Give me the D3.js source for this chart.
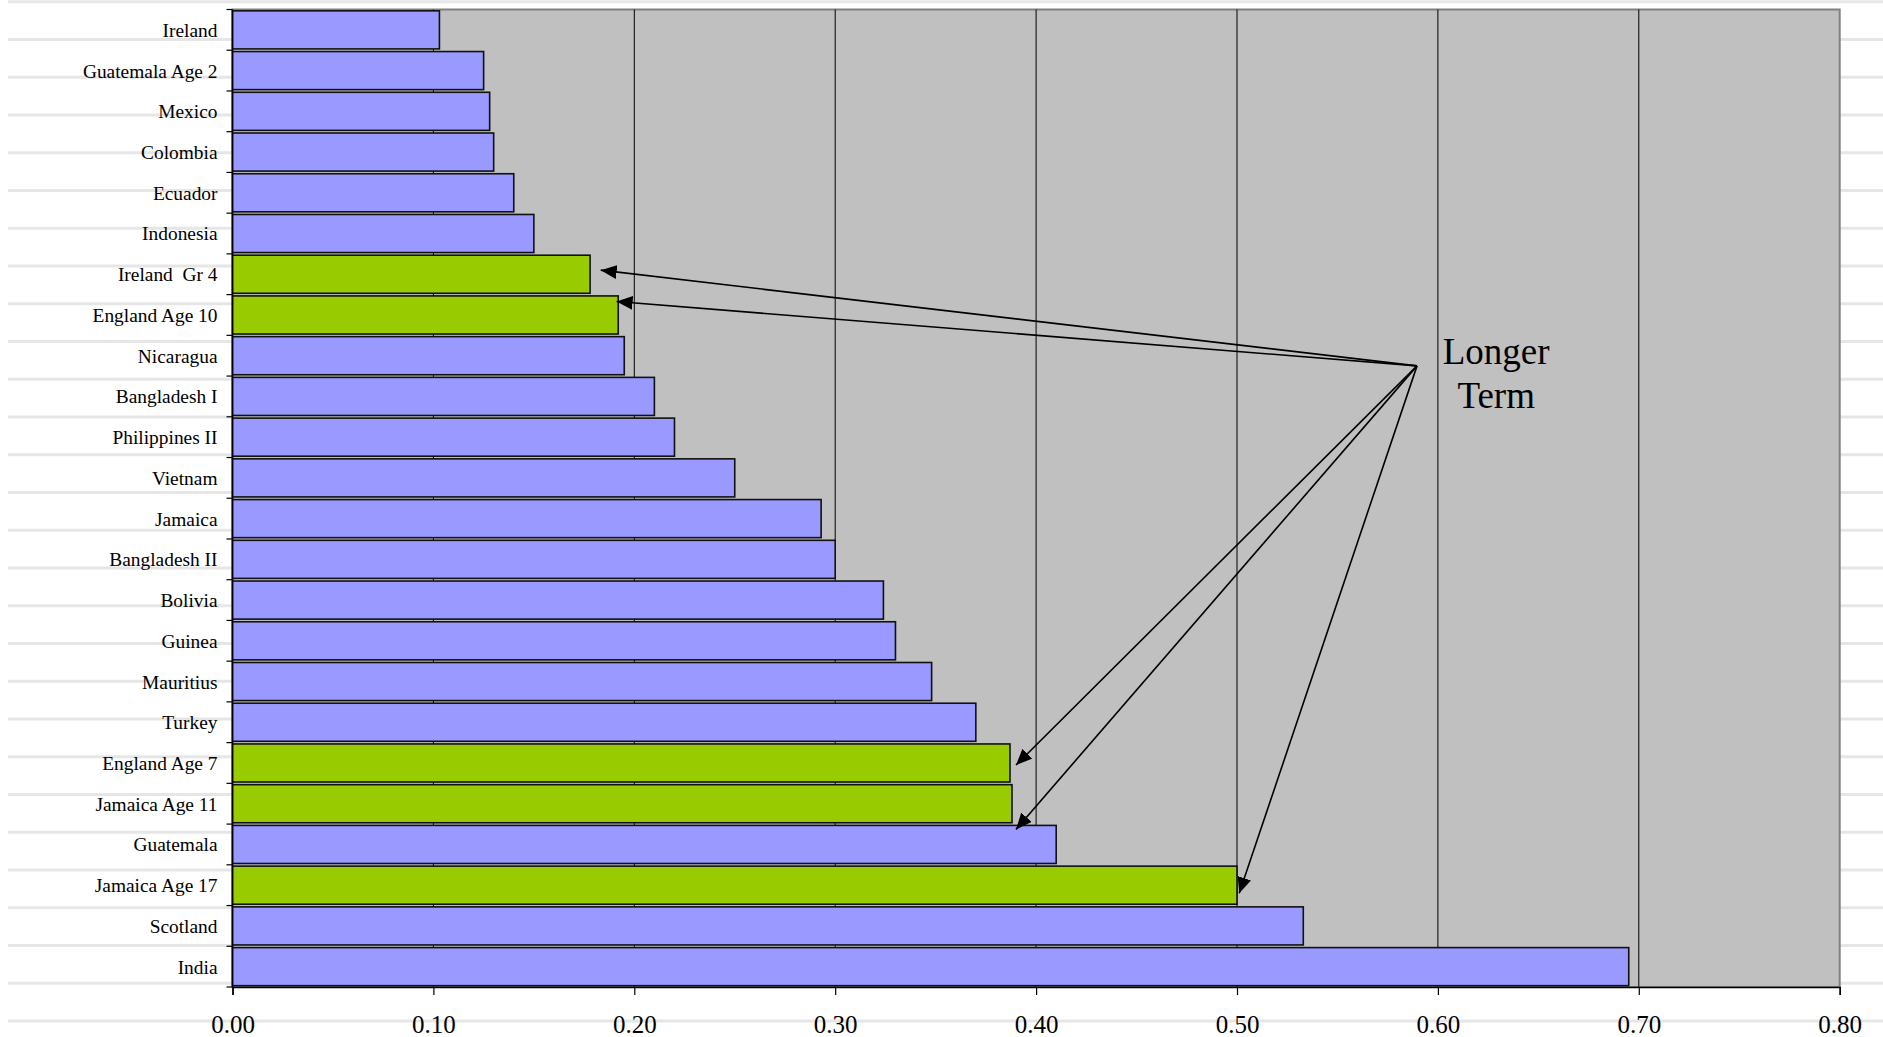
<!DOCTYPE html>
<html>
<head>
<meta charset="utf-8">
<script src="https://cdn.jsdelivr.net/npm/d3@7"></script>
<style>
  html, body { margin: 0; padding: 0; background: #ffffff; }
  svg { display: block; }
  text { font-family: "Liberation Serif", "Times New Roman", serif; fill: #000; }
</style>
</head>
<body>
<svg id="chart" width="1883" height="1037"></svg>
<script>
// ---- data ----
const categories = [
  "Ireland", "Guatemala Age 2", "Mexico", "Colombia", "Ecuador", "Indonesia",
  "Ireland  Gr 4", "England Age 10", "Nicaragua", "Bangladesh I", "Philippines II",
  "Vietnam", "Jamaica", "Bangladesh II", "Bolivia", "Guinea", "Mauritius", "Turkey",
  "England Age 7", "Jamaica Age 11", "Guatemala", "Jamaica Age 17", "Scotland", "India"
];
const values = [
  0.103, 0.125, 0.128, 0.130, 0.140, 0.150,
  0.178, 0.192, 0.195, 0.210, 0.220,
  0.250, 0.293, 0.300, 0.324, 0.330, 0.348, 0.370,
  0.387, 0.388, 0.410, 0.500, 0.533, 0.695
];
const longerTerm = ["Ireland  Gr 4", "England Age 10", "England Age 7", "Jamaica Age 11", "Jamaica Age 17"];
const xTicks = [0, 0.1, 0.2, 0.3, 0.4, 0.5, 0.6, 0.7, 0.8];
const annotationText = ["Longer", "Term"];
// arrow tips: category, value at tip, fraction down the category band
const arrowTips = [
  { cat: "Ireland  Gr 4", v: 0.1833, f: 0.40 },
  { cat: "England Age 10", v: 0.1912, f: 0.17 },
  { cat: "England Age 7", v: 0.390, f: 0.55 },
  { cat: "Jamaica Age 11", v: 0.390, f: 1.13 },
  { cat: "Jamaica Age 17", v: 0.5011, f: 0.70 }
];
const arrowOrigin = { cat: "Nicaragua", v: 0.5896, f: 0.75 };

// ---- layout ----
const svg = d3.select("#chart");
const W = 1883, H = 1037;
const plot = { left: 232.5, right: 1839.7, top: 9.5, bottom: 987 };

const x = d3.scaleLinear().domain([0, 0.8]).range([plot.left, plot.right]);
const pad = 0.065;
const y = d3.scaleBand().domain(categories).range([plot.top, plot.bottom])
  .paddingInner(pad).paddingOuter(pad / 2);
const step = y.step();
const bandTop = c => y(c) - step * pad / 2;

// background stripes
const stripes = d3.range(0, 28).map(k => 1.7 + k * 37.75);
svg.append("g").selectAll("line").data(stripes).join("line")
  .attr("x1", 8).attr("x2", W).attr("y1", d => d).attr("y2", d => d)
  .attr("stroke", "#e6e6e6").attr("stroke-width", 3);

// plot area
svg.append("rect")
  .attr("x", plot.left).attr("y", plot.top)
  .attr("width", plot.right - plot.left).attr("height", plot.bottom - plot.top)
  .attr("fill", "#c0c0c0").attr("stroke", "#808080").attr("stroke-width", 2);

// gridlines
svg.append("g").selectAll("line").data(xTicks.slice(1, -1)).join("line")
  .attr("x1", d => x(d)).attr("x2", d => x(d))
  .attr("y1", plot.top).attr("y2", plot.bottom)
  .attr("stroke", "#000").attr("stroke-width", 1);

// bars
svg.append("g").selectAll("rect").data(categories).join("rect")
  .attr("x", x(0))
  .attr("y", d => y(d))
  .attr("width", (d, i) => x(values[i]) - x(0))
  .attr("height", y.bandwidth())
  .attr("fill", d => longerTerm.includes(d) ? "#99cc00" : "#9999ff")
  .attr("stroke", "#111").attr("stroke-width", 1.6);

// y axis: labels
const yAxis = svg.append("g").attr("transform", `translate(${plot.left},0)`)
  .call(d3.axisLeft(y).tickSize(0).tickPadding(15));
yAxis.select(".domain").remove();
yAxis.selectAll("text")
  .style("font-family", '"Liberation Serif", "Times New Roman", serif')
  .style("font-size", "19.4px").style("white-space", "pre")
  .attr("dy", "0.36em");
// y axis line and boundary ticks
svg.append("line").attr("x1", plot.left).attr("x2", plot.left)
  .attr("y1", plot.top).attr("y2", plot.bottom).attr("stroke", "#000").attr("stroke-width", 1.5);
const bounds = categories.map(bandTop).concat([plot.bottom]);
svg.append("g").selectAll("line").data(bounds).join("line")
  .attr("x1", plot.left - 6).attr("x2", plot.left)
  .attr("y1", d => d).attr("y2", d => d)
  .attr("stroke", "#000").attr("stroke-width", 1.2);

// x axis
const xAxis = svg.append("g").attr("transform", `translate(0,${plot.bottom})`)
  .call(d3.axisBottom(x).tickValues(xTicks).tickFormat(d3.format(".2f")).tickSize(8).tickPadding(20));
xAxis.select(".domain").attr("stroke", "#000").attr("stroke-width", 1.5);
xAxis.selectAll(".tick line").attr("stroke", "#000").attr("stroke-width", 1.2);
xAxis.selectAll("text")
  .style("font-family", '"Liberation Serif", "Times New Roman", serif')
  .style("font-size", "25px");

// arrows
const defs = svg.append("defs");
defs.append("marker").attr("id", "arrowhead")
  .attr("markerUnits", "userSpaceOnUse")
  .attr("markerWidth", 17).attr("markerHeight", 14)
  .attr("refX", 16).attr("refY", 7).attr("orient", "auto")
  .append("path").attr("d", "M0,0 L16,7 L0,14 Z").attr("fill", "#000");

const ptY = (c, f) => bandTop(c) + f * step;
const ox = x(arrowOrigin.v), oy = ptY(arrowOrigin.cat, arrowOrigin.f);
svg.append("g").selectAll("line").data(arrowTips).join("line")
  .attr("x1", ox).attr("y1", oy)
  .attr("x2", d => x(d.v)).attr("y2", d => ptY(d.cat, d.f))
  .attr("stroke", "#000").attr("stroke-width", 1.6)
  .attr("marker-end", "url(#arrowhead)");

// annotation text
svg.append("text")
  .attr("x", x(0.629)).attr("y", oy - 2)
  .attr("text-anchor", "middle")
  .style("font-size", "37px")
  .selectAll("tspan").data(annotationText).join("tspan")
  .attr("x", x(0.629)).attr("dy", (d, i) => i === 0 ? 0 : 44)
  .text(d => d);
</script>
</body>
</html>
